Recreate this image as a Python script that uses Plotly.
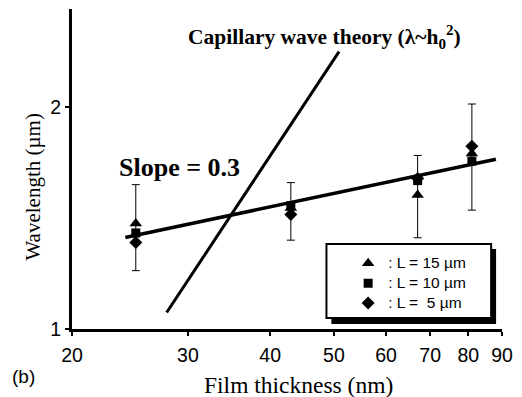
import math
import numpy as np
import plotly.graph_objects as go

# ---- data ----
thickness = [25, 43, 67, 81]                      # film thickness (nm)
wl_L15 = [1.39, 1.46, 1.52, 1.73]                 # triangle, L = 15 um
wl_L10 = [1.35, 1.47, 1.59, 1.69]                 # square,   L = 10 um
wl_L5 = [1.31, 1.43, 1.60, 1.77]                  # diamond,  L = 5 um
err_top = [1.57, 1.58, 1.72, 2.02]                # upper end of error bars
err_bottom = [1.20, 1.32, 1.33, 1.45]             # lower end of error bars

fit_x = [24.1, 88.1]                              # slope = 0.3 fit line
fit_y = [1.331, 1.70]
cap_x = [27.85, 50.9]                             # capillary wave theory line
cap_y = [1.053, 2.379]

x_ticks = [20, 30, 40, 50, 60, 70, 80, 90]
x_tick_labels = ["20", "30", "40", "50", "60", "70", "80", "90"]
y_ticks = [1, 2]
y_tick_labels = ["1", "2"]
legend_names = [": L = 15 µm", ": L = 10 µm", ": L =\u00a0\u00a05 µm"]

SANS = "Liberation Sans"
SERIF = "Liberation Serif"

fig = go.Figure()

# error bars (one per thickness)
err_center = np.array(wl_L10)
fig.add_trace(go.Scatter(
    x=thickness, y=wl_L10, mode="markers",
    marker=dict(size=2, color="rgba(0,0,0,0)"),
    error_y=dict(type="data", symmetric=False,
                 array=(np.array(err_top) - err_center).tolist(),
                 arrayminus=(err_center - np.array(err_bottom)).tolist(),
                 color="black", thickness=1, width=4),
    showlegend=False, hoverinfo="skip"))

# fit lines
fig.add_trace(go.Scatter(x=fit_x, y=fit_y, mode="lines",
                         line=dict(color="black", width=3.5), showlegend=False))
fig.add_trace(go.Scatter(x=cap_x, y=cap_y, mode="lines",
                         line=dict(color="black", width=3), showlegend=False))

# data series
for vals, sym, size, name in [(wl_L15, "triangle-up", 11, legend_names[0]),
                              (wl_L10, "square", 9, legend_names[1]),
                              (wl_L5, "diamond", 10, legend_names[2])]:
    fig.add_trace(go.Scatter(
        x=thickness, y=vals, mode="markers",
        name='<span style="font-size:15.5px">' + name + "</span>",
        marker=dict(symbol=sym, size=size, color="black")))

# plot area in pixels: x 72..508, y 9..329
def px_x(p):
    return (p - 72) / 436.0

def px_y(p):
    return (329 - p) / 320.0

shapes = [
    dict(type="rect", xref="paper", yref="paper",
         x0=px_x(335), x1=px_x(502), y0=px_y(324), y1=px_y(249),
         fillcolor="black", line=dict(width=0), layer="above"),
    dict(type="rect", xref="paper", yref="paper",
         x0=px_x(330), x1=px_x(497), y0=px_y(318), y1=px_y(244),
         fillcolor="white", line=dict(color="black", width=2), layer="above"),
]

annotations = [
    dict(text="<b>Capillary wave theory (λ~h<sub>0</sub><sup>2</sup>)</b>",
         xref="paper", yref="paper", x=px_x(328.5), y=px_y(36.5),
         xanchor="center", yanchor="middle", showarrow=False,
         font=dict(family=SERIF, size=21.5, color="black")),
    dict(text="<b>Slope = 0.3</b>", xref="paper", yref="paper",
         x=px_x(181), y=px_y(167), xanchor="center", yanchor="middle",
         showarrow=False, font=dict(family=SERIF, size=26, color="black")),
    dict(text="Wavelength (µm)", xref="paper", yref="paper",
         x=px_x(32), y=px_y(187), xanchor="center", yanchor="middle",
         textangle=-90, showarrow=False,
         font=dict(family=SERIF, size=21, color="black")),
    dict(text="Film thickness (nm)", xref="paper", yref="paper",
         x=px_x(302), y=px_y(385), xanchor="center", yanchor="middle",
         showarrow=False, font=dict(family=SERIF, size=23.5, color="black")),
    dict(text="(b)", xref="paper", yref="paper",
         x=px_x(22.5), y=px_y(376), xanchor="center", yanchor="middle",
         showarrow=False, font=dict(family=SANS, size=19, color="black")),
]

fig.update_layout(
    width=522, height=397,
    margin=dict(l=72, r=14, t=9, b=68),
    paper_bgcolor="white", plot_bgcolor="white",
    showlegend=True,
    legend=dict(x=px_x(352), y=px_y(248.3), xanchor="left", yanchor="top",
                bgcolor="rgba(0,0,0,0)", borderwidth=0,
                font=dict(family=SANS, size=13, color="black")),
    shapes=shapes, annotations=annotations,
    xaxis=dict(type="log", range=[math.log10(20), math.log10(90)],
               tickmode="array", tickvals=x_ticks, ticktext=x_tick_labels,
               ticks="outside", ticklen=4, tickwidth=2, tickcolor="black",
               showline=True, linewidth=3, linecolor="black",
               showgrid=False, zeroline=False, ticklabelstandoff=3,
               tickfont=dict(family=SANS, size=19.5, color="black")),
    yaxis=dict(type="log", range=[0, math.log10(math.e)],
               tickmode="array", tickvals=y_ticks, ticktext=y_tick_labels,
               ticks="outside", ticklen=4, tickwidth=2, tickcolor="black",
               showline=True, linewidth=3, linecolor="black",
               showgrid=False, zeroline=False,
               tickfont=dict(family=SANS, size=19.5, color="black")),
)

fig.write_html("out.html",
               config={"displayModeBar": False},
               post_script="document.body.style.margin='0';"
                           "document.body.style.overflow='hidden';")
